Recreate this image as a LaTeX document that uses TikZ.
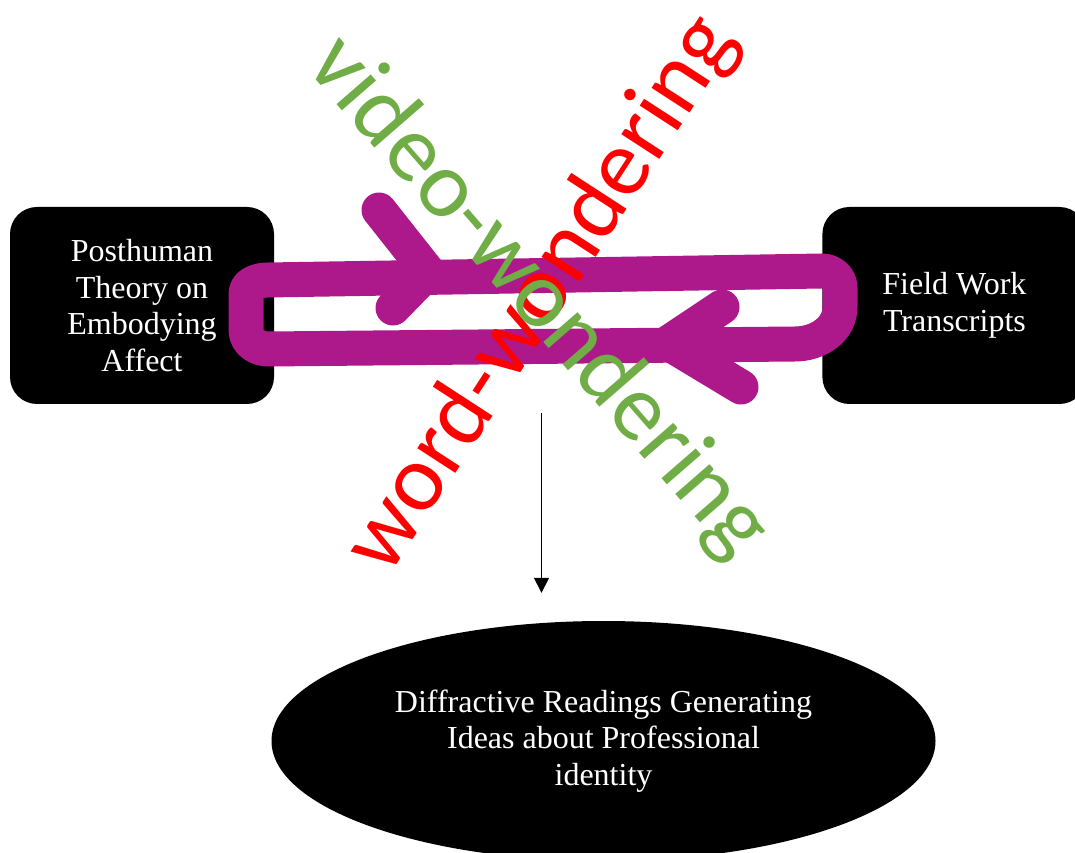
\documentclass[tikz,border=0pt]{standalone}
\usepackage{fontspec}
\setmainfont{Liberation Serif}
\newfontfamily\calibfont{Carlito}
\usetikzlibrary{arrows.meta,positioning,shapes.geometric}
\definecolor{loopPurple}{RGB}{173,25,139}
\definecolor{wordRed}{RGB}{255,0,0}
\definecolor{videoGreen}{RGB}{112,173,71}

\begin{document}
\begin{tikzpicture}[
  x=1pt, y=1pt,
  blackbox/.style={fill=black, text=white, rounded corners=27pt,
                   minimum width=264pt, minimum height=197pt, align=center,
                   inner sep=0pt, font=\fontsize{32}{36.8}\selectfont},
  blackell/.style={ellipse, fill=black, text=white, minimum width=664pt,
                   minimum height=240pt, align=center, inner sep=0pt,
                   font=\fontsize{32}{36.8}\selectfont},
  wander/.style={anchor=base, inner sep=0pt,
                 font=\calibfont\fontsize{95}{114}\selectfont},
  loopline/.style={draw=loopPurple, line width=35pt, line cap=round, line join=round},
  arr/.style={-{Triangle[length=15pt, width=15pt]}, line width=1.5pt},
]
\useasboundingbox (0,0) rectangle (1075,852);

% ---------- boxes ----------
\node[blackbox] (theory) at (142,546.5) {Posthuman\\Theory on\\Embodying\\Affect};
\node[blackbox, right=548pt of theory] (field) {Field Work\\Transcripts};
\node[blackell] (diff) at (603.5,111)
  {Diffractive Readings Generating\\Ideas about Professional\\identity};

% ---------- arrow down ----------
\coordinate (drop) at (541.5,439);
\draw[arr, shorten >=28pt] (drop) -- (drop |- diff.north);

% ---------- purple loop ----------
\draw[loopline] (246,540) -- (246,558) to[out=90,in=180] (268,572)
  -- (822,581) to[out=0,in=90] (840,564) -- (840,545)
  to[out=-90,in=0] (795,508) -- (268,503) to[out=180,in=-90] (246,522) -- cycle;
\draw[loopline] (379,642) -- (428,580) -- (393,544);
\draw[loopline] (722,545) -- (668,509) -- (741,465);

% ---------- crossing words ----------
\node[wander, text=wordRed, rotate=57] (word) at (563,544) {word-wondering};
\node[wander, text=videoGreen, rotate=-49] (video) at (519,538) {video-wondering};

\end{tikzpicture}
\end{document}
